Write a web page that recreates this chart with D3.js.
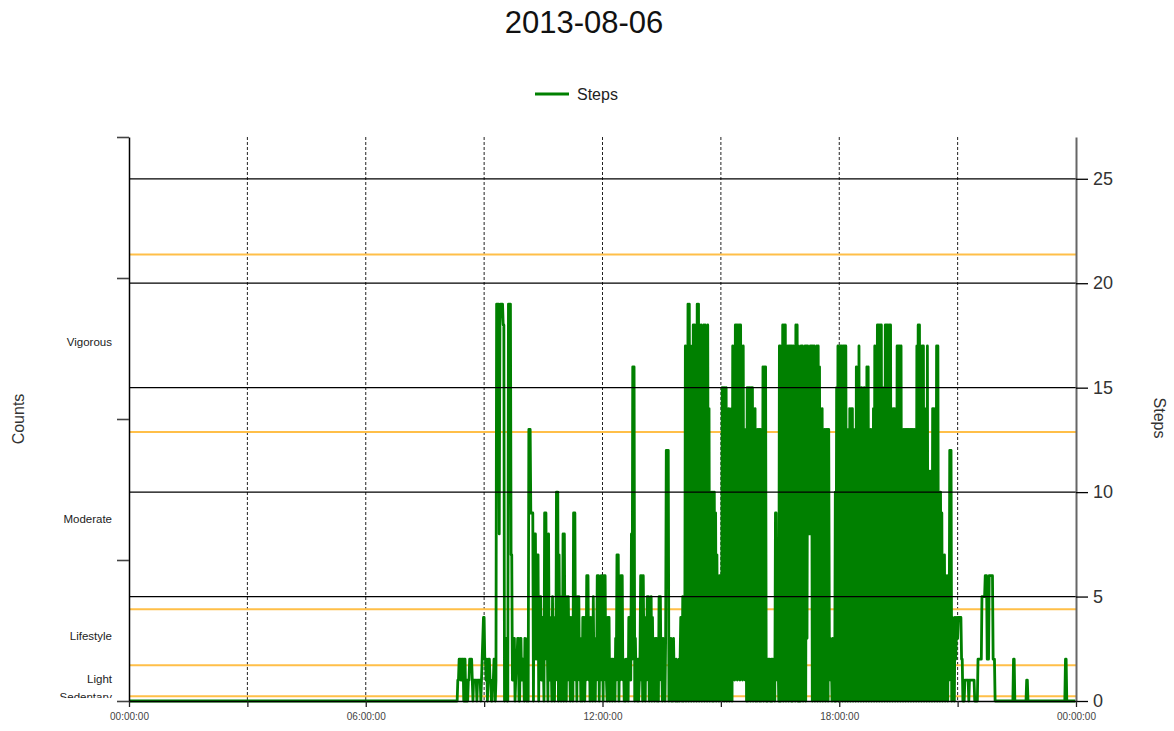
<!DOCTYPE html>
<html><head><meta charset="utf-8">
<script src="https://cdn.jsdelivr.net/npm/d3@7"></script>
<style>
body{margin:0;background:#fff}
svg{display:block}
text{font-family:"Liberation Sans",Arial,sans-serif}
</style>
</head><body>
<svg id="chart" width="1174" height="731"></svg>
<script>
// ---------- data ----------
const chartTitle = "2013-08-06";
const seriesName = "Steps";
const leftTitle = "Counts";
const rightTitle = "Steps";

// intensity cut points (activity counts) and their band names
const cutPoints = [0, 100, 760, 1952, 5725, 9499];
const intensityLabels = ["Sedentary", "Light", "Lifestyle", "Moderate", "Vigorous"];
const countTicks = [0, 3000, 6000, 9000, 12000];
const stepTicks = [0, 5, 10, 15, 20, 25];
const timeTickHours = [0, 3, 6, 9, 12, 15, 18, 21, 24];
const timeLabels = {0: "00:00:00", 6: "06:00:00", 12: "12:00:00", 18: "18:00:00", 24: "00:00:00"};

// steps per minute; no steps between 00:00 and 08:00
const quietStart = {minute: 0, steps: 0};
const firstHour = 8;
const h08 = [0,0,0,0,0,0,0,0,0,0, 0,0,0,0,0,0,0,0,0,0, 1,1,2,2,2,1,2,2,2,0, 2,2,0,1,1,0,1,1,2,2, 2,2,1,0,1,1,1,1,1,0, 1,1,1,1,1,0,1,2,3,4];
const h09 = [4,2,2,1,2,0,1,2,2,1, 1,0,0,1,1,2,2,0,1,19, 19,19,19,8,18,19,19,19,19,18, 18,0,2,3,3,0,0,19,19,19, 19,7,7,1,1,3,3,0,1,2, 2,3,3,0,0,3,3,1,1,2];
const h10 = [2,0,3,1,1,0,3,0,13,13, 13,9,9,9,9,0,8,8,8,2, 7,7,7,0,5,5,5,1,3,4, 2,0,9,9,9,2,3,0,8,1, 4,2,2,0,5,1,3,0,4,1, 10,10,10,0,7,2,3,0,5,1];
const h11 = [8,0,8,2,3,0,5,1,5,2, 2,0,4,1,3,0,9,9,9,1, 4,0,5,2,5,1,3,0,1,0, 4,4,4,0,2,1,6,6,6,1, 4,0,4,2,2,0,5,1,2,0, 3,1,6,6,6,0,3,1,6,2];
const h12 = [3,0,6,6,6,1,1,0,4,4, 4,0,2,1,2,0,2,1,1,0, 3,1,7,7,7,0,3,1,6,6, 6,1,2,0,1,0,2,1,2,0, 4,4,4,1,8,2,16,16,16,0, 3,1,1,0,2,0,1,2,6,1];
const h13 = [6,0,6,2,1,0,4,1,5,5, 5,0,2,1,5,0,4,1,2,0, 3,1,3,0,1,0,5,5,5,1, 2,0,3,1,1,0,3,12,12,12, 12,0,3,1,3,0,1,0,3,1, 2,0,2,0,0,1,2,0,2,4];
const h14 = [2,0,5,0,4,1,17,0,17,2, 19,0,19,3,17,0,16,1,18,0, 18,2,18,0,19,1,19,0,18,4, 18,0,17,6,18,0,18,1,17,0, 18,2,14,0,10,1,10,0,10,0, 10,2,9,0,7,1,5,0,6,2];
const h15 = [6,0,15,2,15,0,15,1,15,0, 14,3,14,0,11,1,14,0,17,2, 17,1,18,2,18,1,18,3,18,1, 18,2,17,1,17,2,13,1,13,0, 15,0,15,2,15,0,15,1,15,0, 14,3,14,0,13,0,13,2,13,0];
const h16 = [13,0,13,2,16,0,16,1,16,0, 2,0,2,1,2,0,1,2,0,2, 1,2,0,9,9,2,1,2,0,17, 17,0,17,1,18,0,18,2,18,0, 17,1,17,0,17,3,17,0,17,0, 17,2,16,0,18,1,18,0,17,0];
const h17 = [14,0,17,2,17,0,16,1,17,0, 17,3,17,8,16,8,17,8,17,0, 17,2,17,0,16,1,17,0,17,2, 16,0,14,1,14,0,13,2,13,0, 13,1,13,0,13,2,3,1,2,0, 3,1,2,0,10,0,15,1,17,0];
const h18 = [15,0,17,2,17,0,17,1,17,0, 17,3,13,0,13,1,14,0,14,2, 14,0,13,1,8,0,16,2,16,0, 17,1,15,0,15,2,13,0,15,1, 13,0,16,2,16,0,13,1,13,0, 13,2,14,0,17,1,17,0,18,2];
const h19 = [18,0,18,1,18,0,15,2,15,0, 18,1,18,0,18,3,18,0,18,1, 14,0,14,2,14,0,14,1,17,0, 17,2,17,0,17,1,13,0,13,2, 13,0,13,1,13,0,13,3,13,0, 13,1,13,0,13,2,13,0,17,1];
const h20 = [18,0,18,2,17,0,17,1,17,0, 14,2,14,0,17,1,11,0,11,2, 11,0,14,1,14,0,14,2,17,0, 17,1,10,0,10,2,9,0,7,1, 7,0,6,2,6,0,6,1,12,12, 12,0,4,1,3,0,4,2,3,4];
const h21 = [3,4,4,4,4,4,2,2,0,0, 0,1,1,1,1,1,1,0,1,1, 1,1,1,1,1,1,0,0,0,0, 0,2,2,2,2,2,2,5,5,5, 5,5,6,6,6,2,2,2,6,6, 6,6,6,6,2,2,2,0,0,0];
const h22 = [0,0,0,0,0,0,0,0,0,0, 0,0,0,0,0,0,0,0,0,0, 0,0,0,0,0,2,2,0,0,0, 0,0,0,0,0,0,0,0,0,0, 0,0,0,0,0,1,1,0,0,0, 0,0,0,0,0,0,0,0,0,0];
const h23 = [0,0,0,0,0,0,0,0,0,0, 0,0,0,0,0,0,0,0,0,0, 0,0,0,0,0,0,0,0,0,0, 0,0,0,0,0,0,0,0,0,0, 0,0,0,0,2,2,0,0,0,0, 0,0,0,0,0,0,0,0,0,0];
const hourBlocks = [h08,h09,h10,h11,h12,h13,h14,h15,h16,h17,h18,h19,h20,h21,h22,h23];

// ---------- build ----------
const series = [quietStart];
hourBlocks.forEach((block, k) => {
  block.forEach((v, i) => series.push({minute: (firstHour + k) * 60 + i, steps: v}));
});

const svg = d3.select("#chart");
const L = 129, R = 1076, T = 137, B = 701;

const x = d3.scaleLinear().domain([0, 1440]).range([L, R]);
const yS = d3.scaleLinear().domain([0, 27]).range([B, T]);
const yC = d3.scaleLinear().domain([0, 12000]).range([B, T]);

// title
svg.append("text").attr("x", 584).attr("y", 33).attr("text-anchor", "middle")
  .attr("font-size", 31).attr("fill", "#111").text(chartTitle);

// legend
svg.append("line").attr("x1", 535).attr("x2", 569).attr("y1", 94).attr("y2", 94)
  .attr("stroke", "#008000").attr("stroke-width", 3);
svg.append("text").attr("x", 577).attr("y", 100).attr("font-size", 16).attr("fill", "#222").text(seriesName);

// vertical dashed grid
svg.append("g").selectAll("line").data(timeTickHours.filter(h => h > 0 && h < 24)).join("line")
  .attr("x1", h => x(h * 60)).attr("x2", h => x(h * 60))
  .attr("y1", T).attr("y2", B)
  .attr("stroke", "#222").attr("stroke-width", 1).attr("stroke-dasharray", "3,2");

// intensity cut lines (orange)
svg.append("g").selectAll("line").data(cutPoints.slice(1)).join("line")
  .attr("x1", L).attr("x2", R).attr("y1", d => yC(d)).attr("y2", d => yC(d))
  .attr("stroke", "#ffbf48").attr("stroke-width", 2);

// steps line
svg.append("path").datum(series)
  .attr("fill", "none").attr("stroke", "#008000").attr("stroke-width", 2.8)
  .attr("stroke-linejoin", "round")
  .attr("d", d3.line().x(d => x(d.minute)).y(d => yS(d.steps)));

// horizontal grid (steps)
svg.append("g").selectAll("line").data(stepTicks.filter(d => d > 0)).join("line")
  .attr("x1", L).attr("x2", R).attr("y1", d => yS(d)).attr("y2", d => yS(d))
  .attr("stroke", "#000").attr("stroke-width", 1.3);

// right axis
const rAxis = svg.append("g").attr("transform", `translate(${R},0)`)
  .call(d3.axisRight(yS).tickValues(stepTicks).tickSize(12).tickSizeOuter(0).tickPadding(5));
rAxis.select(".domain").attr("stroke", "#666").attr("stroke-width", 2);
rAxis.selectAll(".tick line").attr("stroke", "#000").attr("stroke-width", 1.3);
rAxis.selectAll("text").attr("font-size", 18).attr("fill", "#333").attr("font-family", '"Liberation Sans",Arial,sans-serif');

// left axis
const lAxis = svg.append("g").attr("transform", `translate(${L},0)`)
  .call(d3.axisLeft(yC).tickValues(countTicks).tickSize(12).tickSizeOuter(0).tickFormat(""));
lAxis.select(".domain").attr("stroke", "#000").attr("stroke-width", 1.5);
lAxis.selectAll(".tick line").attr("stroke", "#444").attr("stroke-width", 1.6);

// intensity band labels
svg.append("defs").append("clipPath").attr("id", "lblclip")
  .append("rect").attr("x", 0).attr("y", 0).attr("width", L).attr("height", 698);
svg.append("g").attr("clip-path", "url(#lblclip)").selectAll("text")
  .data(intensityLabels).join("text")
  .attr("x", 112).attr("y", (d, i) => yC((cutPoints[i] + cutPoints[i + 1]) / 2) - 1.5)
  .attr("dy", "0.35em").attr("text-anchor", "end").attr("font-size", 11.5).attr("fill", "#222")
  .text(d => d);

// bottom axis
const bAxis = svg.append("g").attr("transform", `translate(0,${B})`)
  .call(d3.axisBottom(x).tickValues(timeTickHours.map(h => h * 60)).tickSize(6).tickSizeOuter(0)
    .tickPadding(6).tickFormat(m => timeLabels[m / 60] || ""));
bAxis.select(".domain").attr("stroke", "#000").attr("stroke-width", 1.5);
bAxis.selectAll(".tick line").attr("stroke", "#222").attr("stroke-width", 1.3);
bAxis.selectAll("text").attr("font-size", 10).attr("fill", "#444").attr("font-family", '"Liberation Sans",Arial,sans-serif');

// axis titles
svg.append("text").attr("transform", "translate(24,419) rotate(-90)").attr("text-anchor", "middle")
  .attr("font-size", 16).attr("fill", "#333").text(leftTitle);
svg.append("text").attr("transform", "translate(1154,418) rotate(90)").attr("text-anchor", "middle")
  .attr("font-size", 16).attr("fill", "#333").text(rightTitle);
</script>
</body></html>
